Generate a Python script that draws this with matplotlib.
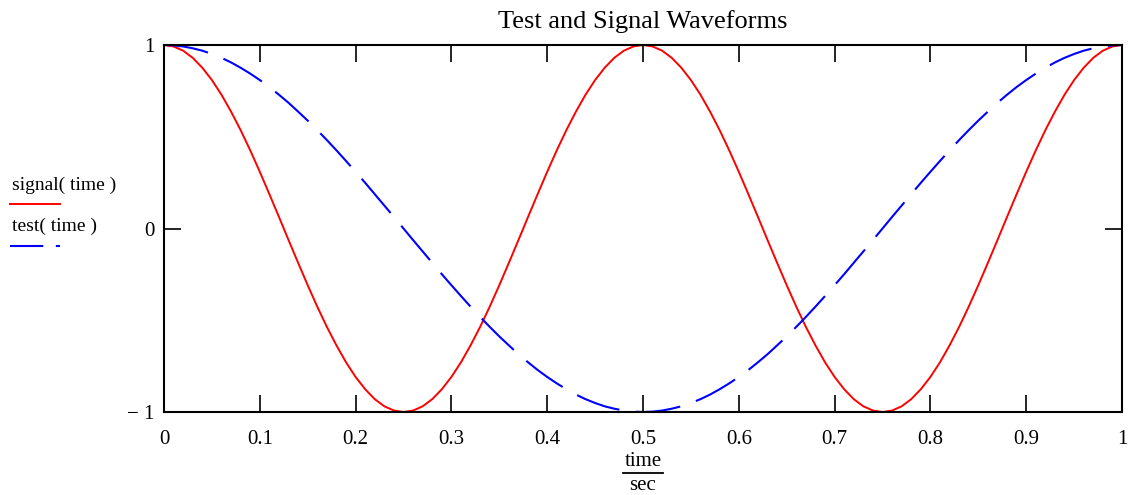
import numpy as np
import matplotlib.pyplot as plt
from matplotlib.lines import Line2D

plt.rcParams['font.family'] = ['Liberation Serif', 'DejaVu Serif']

# sample times (sec) and readings
time = [0.00, 0.01, 0.02, 0.03, 0.04, 0.05, 0.06, 0.07, 0.08, 0.09,
        0.10, 0.11, 0.12, 0.13, 0.14, 0.15, 0.16, 0.17, 0.18, 0.19,
        0.20, 0.21, 0.22, 0.23, 0.24, 0.25, 0.26, 0.27, 0.28, 0.29,
        0.30, 0.31, 0.32, 0.33, 0.34, 0.35, 0.36, 0.37, 0.38, 0.39,
        0.40, 0.41, 0.42, 0.43, 0.44, 0.45, 0.46, 0.47, 0.48, 0.49,
        0.50, 0.51, 0.52, 0.53, 0.54, 0.55, 0.56, 0.57, 0.58, 0.59,
        0.60, 0.61, 0.62, 0.63, 0.64, 0.65, 0.66, 0.67, 0.68, 0.69,
        0.70, 0.71, 0.72, 0.73, 0.74, 0.75, 0.76, 0.77, 0.78, 0.79,
        0.80, 0.81, 0.82, 0.83, 0.84, 0.85, 0.86, 0.87, 0.88, 0.89,
        0.90, 0.91, 0.92, 0.93, 0.94, 0.95, 0.96, 0.97, 0.98, 0.99, 1.00]

signal = [1.000, 0.992, 0.969, 0.930, 0.876, 0.809, 0.729, 0.637, 0.536, 0.426,
          0.309, 0.187, 0.063, -0.063, -0.187, -0.309, -0.426, -0.536, -0.637, -0.729,
          -0.809, -0.876, -0.930, -0.969, -0.992, -1.000, -0.992, -0.969, -0.930, -0.876,
          -0.809, -0.729, -0.637, -0.536, -0.426, -0.309, -0.187, -0.063, 0.063, 0.187,
          0.309, 0.426, 0.536, 0.637, 0.729, 0.809, 0.876, 0.930, 0.969, 0.992,
          1.000, 0.992, 0.969, 0.930, 0.876, 0.809, 0.729, 0.637, 0.536, 0.426,
          0.309, 0.187, 0.063, -0.063, -0.187, -0.309, -0.426, -0.536, -0.637, -0.729,
          -0.809, -0.876, -0.930, -0.969, -0.992, -1.000, -0.992, -0.969, -0.930, -0.876,
          -0.809, -0.729, -0.637, -0.536, -0.426, -0.309, -0.187, -0.063, 0.063, 0.187,
          0.309, 0.426, 0.536, 0.637, 0.729, 0.809, 0.876, 0.930, 0.969, 0.992, 1.000]

test = [1.000, 0.998, 0.992, 0.982, 0.969, 0.951, 0.930, 0.905, 0.876, 0.844,
        0.809, 0.771, 0.729, 0.685, 0.637, 0.588, 0.536, 0.482, 0.426, 0.368,
        0.309, 0.249, 0.187, 0.125, 0.063, 0.000, -0.063, -0.125, -0.187, -0.249,
        -0.309, -0.368, -0.426, -0.482, -0.536, -0.588, -0.637, -0.685, -0.729, -0.771,
        -0.809, -0.844, -0.876, -0.905, -0.930, -0.951, -0.969, -0.982, -0.992, -0.998,
        -1.000, -0.998, -0.992, -0.982, -0.969, -0.951, -0.930, -0.905, -0.876, -0.844,
        -0.809, -0.771, -0.729, -0.685, -0.637, -0.588, -0.536, -0.482, -0.426, -0.368,
        -0.309, -0.249, -0.187, -0.125, -0.063, 0.000, 0.063, 0.125, 0.187, 0.249,
        0.309, 0.368, 0.426, 0.482, 0.536, 0.588, 0.637, 0.685, 0.729, 0.771,
        0.809, 0.844, 0.876, 0.905, 0.930, 0.951, 0.969, 0.982, 0.992, 0.998, 1.000]

xticks = [0, 0.1, 0.2, 0.3, 0.4, 0.5, 0.6, 0.7, 0.8, 0.9, 1]
xticklabels = ['0', '0.1', '0.2', '0.3', '0.4', '0.5', '0.6', '0.7', '0.8', '0.9', '1']
yticks = [-1, 0, 1]
yticklabels = ['\u2212 1', '0', '1']

fig = plt.figure(figsize=(11.28, 4.95), dpi=100)
ax = fig.add_axes([164 / 1128, 1 - 412 / 495, (1122 - 164) / 1128, (412 - 45) / 495])

ax.plot(time, signal, color='red', lw=1.4, clip_on=False)
ax.plot(time, test, color='blue', lw=1.5, linestyle=(0, (21.5, 8)), clip_on=False)

ax.set_xlim(0, 1)
ax.set_ylim(-1, 1)
ax.set_xticks(xticks)
ax.set_xticklabels(xticklabels, fontsize=15)
ax.set_yticks(yticks)
ax.set_yticklabels(yticklabels, fontsize=15)
ax.tick_params(axis='both', direction='in', length=12, width=1.2,
               top=True, right=True)
ax.tick_params(axis='x', pad=13)
ax.tick_params(axis='y', pad=7)
for s in ax.spines.values():
    s.set_linewidth(1.5)

fig.text(643 / 1128, 1 - 22 / 495, 'Test and Signal Waveforms',
         ha='center', va='center', fontsize=19)

# x axis label as a fraction time / sec
fig.text(643 / 1128, 1 - 461 / 495, 'time', ha='center', va='center', fontsize=15)
fig.add_artist(Line2D([623 / 1128, 663 / 1128], [1 - 473 / 495] * 2,
                      color='black', lw=1.3, transform=fig.transFigure))
fig.text(643 / 1128, 1 - 490 / 495, 'sec', ha='center', va='baseline', fontsize=15)

# legend at left
fig.text(12 / 1128, 1 - 185 / 495, 'signal( time )', ha='left', va='center', fontsize=14)
fig.add_artist(Line2D([10 / 1128, 60 / 1128], [1 - 204 / 495] * 2,
                      color='red', lw=1.4, transform=fig.transFigure))
fig.text(12 / 1128, 1 - 226 / 495, 'test( time )', ha='left', va='center', fontsize=14)
fig.add_artist(Line2D([10 / 1128, 60 / 1128], [1 - 246 / 495] * 2,
                      color='blue', lw=1.5, linestyle=(0, (16, 6)),
                      transform=fig.transFigure))

fig.savefig('out.png', dpi=100)
